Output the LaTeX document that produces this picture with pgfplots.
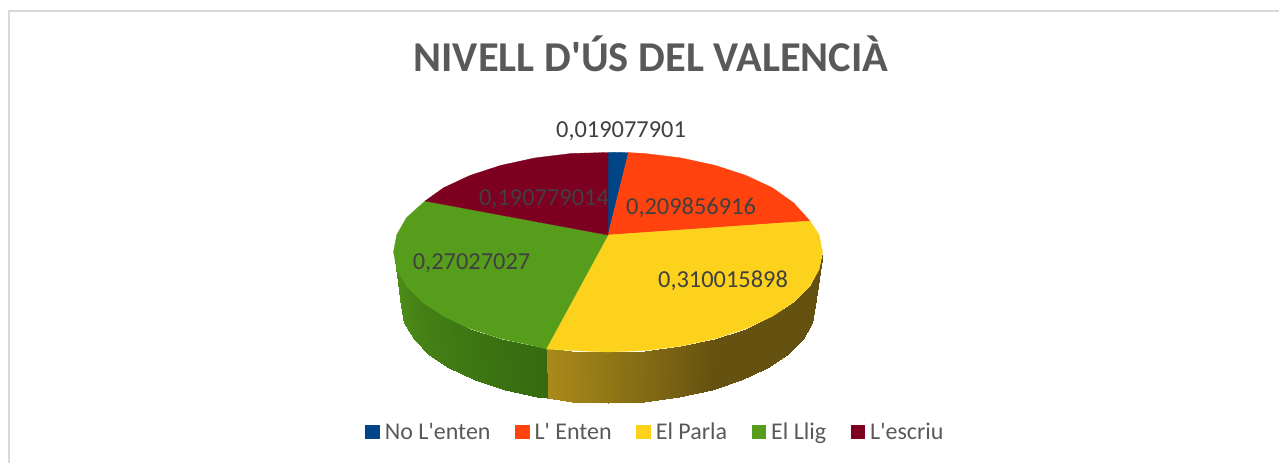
\documentclass[border=0pt]{standalone}
\usepackage{pgfplots}
\usepackage{fontspec}
\setmainfont{Carlito}[Ligatures=TeXOff]
\pgfplotsset{compat=1.18}
\definecolor{cBlue}{HTML}{004586}
\definecolor{cOrange}{HTML}{FF420E}
\definecolor{cYellow}{HTML}{FCD21C}
\definecolor{cGreen}{HTML}{579D1C}
\definecolor{cMaroon}{HTML}{7E0021}
\definecolor{cTitle}{HTML}{595959}
\definecolor{cLabel}{HTML}{404040}
\definecolor{cFrame}{HTML}{D9D9D9}
\begin{document}
\begin{tikzpicture}
\begin{axis}[
  scale only axis, width=1279pt, height=463pt,
  xmin=0, xmax=1279, ymin=0, ymax=463, y dir=reverse,
  hide axis, clip=true,
  title={\fontsize{42.5}{42.5}\selectfont\bfseries\textcolor{cTitle}{NIVELL D'ÚS DEL VALENCIÀ}},
  title style={at={(axis description cs:0.509,0.870)},anchor=center,inner sep=0pt},
  point meta min=0, point meta max=180,
  colormap={side}{rgb255(0pt)=(100,80,15) rgb255(60pt)=(102,82,16) rgb255(106pt)=(169,138,26) rgb255(107pt)=(53,106,16) rgb255(180pt)=(79,144,25)},
  legend columns=-1,
  legend style={at={(axis cs:655,432)},anchor=center,draw=none,fill=none,
    font=\fontsize{24}{24}\selectfont\color{cTitle},
    /tikz/every even column/.append style={column sep=23.5pt},
    /tikz/every odd column/.append style={column sep=4pt},
    nodes={inner sep=1pt}},
  legend image code/.code={\fill[#1,draw=none] (0pt,-7.25pt) rectangle (14.5pt,7.25pt);},
]
\path[use as bounding box] (axis cs:0,0) rectangle (axis cs:1279,463);
% chart frame
\addplot[forget plot,color=cFrame,line width=1.6pt] coordinates {(1279,11)(9,11)(9,463)};
% side of the pie: yellow and green walls
\addplot[forget plot,patch,patch type=rectangle,shader=interp,point meta=explicit] table[x=x,y=y,meta=m] {
x y m
822.5 252 0
815 306 0
811.9 322.8 10
819.2 269.4 10
819.2 269.4 10
811.9 322.8 10
802.5 339.2 20
809.6 286.2 20
809.6 286.2 20
802.5 339.2 20
787.3 354.5 30
793.8 302 30
793.8 302 30
787.3 354.5 30
766.6 368.4 40
772.3 316.3 40
772.3 316.3 40
766.6 368.4 40
741.1 380.3 50
745.9 328.6 50
745.9 328.6 50
741.1 380.3 50
711.5 390 60
715.3 338.6 60
715.3 338.6 60
711.5 390 60
678.8 397.2 70
681.4 346 70
681.4 346 70
678.8 397.2 70
643.9 401.5 80
645.2 350.5 80
645.2 350.5 80
643.9 401.5 80
608 403 90
608 352 90
608 352 90
608 403 90
572.1 401.5 100
570.8 350.5 100
570.8 350.5 100
572.1 401.5 100
547 398 106
546 348 106
546 348 107
547 398 107
537.2 397.2 111
534.6 346 111
534.6 346 111
537.2 397.2 111
504.5 390 120
500.7 338.6 120
500.7 338.6 120
504.5 390 120
474.9 380.3 130
470.1 328.6 130
470.1 328.6 130
474.9 380.3 130
449.4 368.4 140
443.7 316.3 140
443.7 316.3 140
449.4 368.4 140
428.7 354.5 150
422.2 302 150
422.2 302 150
428.7 354.5 150
413.5 339.2 160
406.4 286.2 160
406.4 286.2 160
413.5 339.2 160
404.2 322.8 170
396.8 269.4 170
396.8 269.4 170
404.2 322.8 170
401 306 180
393.5 252 180
};
% top face
\addplot[fill=cBlue,draw=cBlue,line width=.3pt] coordinates {(608,235)(608,152.5)(618,152.3)(628.5,152.6)(608,235)};
\addlegendentry{No L'enten}
\addplot[fill=cOrange,draw=cOrange,line width=.3pt] coordinates {(608,235)(628.5,152.6)(645.2,153.5)(681.4,158)(715.3,165.4)(745.9,175.4)(772.3,187.7)(793.8,203)(810,221)(608,235)};
\addlegendentry{L' Enten}
\addplot[fill=cYellow,draw=cYellow,line width=.3pt] coordinates {(608,235)(810,221)(819.2,235)(822.5,252)(819.2,269.4)(809.6,286.2)(793.8,302)(772.3,316.3)(745.9,328.6)(715.3,338.6)(681.4,346)(645.2,350.5)(608,352)(570.8,350.5)(546,349)(608,235)};
\addlegendentry{El Parla}
\addplot[fill=cGreen,draw=cGreen,line width=.3pt] coordinates {(608,235)(546,349)(534.6,346)(500.7,338.6)(470.1,328.6)(443.7,316.3)(422.2,302)(406.4,286.2)(396.8,269.4)(393.5,252)(396.8,234.6)(406.4,217.8)(425,201)(608,235)};
\addlegendentry{El Llig}
\addplot[fill=cMaroon,draw=cMaroon,line width=.3pt] coordinates {(608,235)(425,201)(443.7,187.7)(470.1,175.4)(500.7,165.4)(534.6,158)(570.8,153.5)(608,152.5)(608,235)};
\addlegendentry{L'escriu}
% data labels
\addplot[forget plot,only marks,mark size=0pt,
  nodes near coords,point meta=explicit symbolic,
  every node near coord/.style={anchor=center,inner sep=0pt,text=cLabel,font=\fontsize{24.4}{24.4}\selectfont}]
  table[x=x,y=y,meta=v] {
x y v
621 131.5 0,019077901
691 207.5 0,209856916
723 280.5 0,310015898
471.5 263.5 0,27027027
544 199.5 0,190779014
};
\end{axis}
\end{tikzpicture}
\end{document}
